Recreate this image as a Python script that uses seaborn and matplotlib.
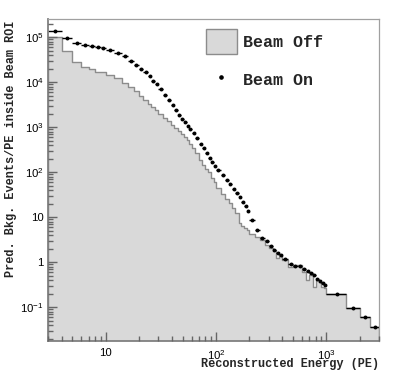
import numpy as np
import pandas as pd
import matplotlib
matplotlib.use("Agg")
import matplotlib.pyplot as plt
from matplotlib.ticker import FuncFormatter, LogLocator, NullFormatter
from matplotlib.patches import Patch
from matplotlib.lines import Line2D
import seaborn as sns

# bin edges (PE)
bin_edges = [3, 4, 5, 6, 7, 8, 9, 10,
             12, 14, 16, 18, 20, 22, 24, 26, 28, 30,
             33, 36, 39, 42, 45, 48, 51, 54, 57, 60,
             65, 70, 75, 80, 85, 90, 95, 100,
             110, 120, 130, 140, 150, 160, 170, 180, 190, 200,
             225, 250, 275, 300, 325, 350, 375, 400,
             450, 500, 550, 600, 650, 700, 750, 800, 850, 900, 950, 1000,
             1500, 2000, 2500, 3000]

beam_off = [1.03e5, 5.04e4, 2.87e4, 2.22e4, 1.95e4, 1.72e4, 1.65e4,
            1.42e4, 1.26e4, 9.64e3, 7.74e3, 6.25e3, 5.06e3, 4.08e3, 3.33e3, 2.83e3, 2.42e3,
            2.0e3, 1.61e3, 1.36e3, 1.15e3, 979, 832, 710, 608, 522, 425,
            344, 262, 188, 147, 120, 99, 74.7, 59.3,
            43.7, 33, 25.5, 20.3, 15.8, 12.5, 7.28, 6.41, 5.64, 5.09,
            4.26, 3.65, 3.05, 2.42, 2.05, 1.87, 1.23, 1.39,
            1.11, 0.798, 0.871, 0.871, 0.618, 0.404, 0.522, 0.287, 0.404, 0.365, 0.287, 0.269,
            0.2, 0.095, 0.06, 0.037]

beam_on = [1.38e5, 9.65e4, 7.36e4, 6.67e4, 6.25e4, 6.0e4, 5.64e4,
           5.22e4, 4.48e4, 3.74e4, 2.97e4, 2.46e4, 2.0e4, 1.65e4, 1.35e4, 1.08e4, 8.93e3,
           6.92e3, 5.27e3, 4.08e3, 3.13e3, 2.42e3, 1.92e3, 1.55e3, 1.28e3, 1.07e3, 894,
           740, 564, 425, 338, 262, 208, 165, 135,
           112, 85.7, 65.8, 55.5, 43.2, 35.0, 27.7, 22.1, 17.8, 13.9,
           8.5, 5.14, 3.47, 2.9, 2.27, 1.87, 1.63, 1.42,
           1.2, 0.916, 0.84, 0.815, 0.718, 0.631, 0.578, 0.509, 0.435, 0.388, 0.354, 0.313,
           0.195, 0.095, 0.06, 0.037]

sns.set_style("white")
plt.rcParams['font.family'] = ['Liberation Sans', 'DejaVu Sans']
plt.rcParams['mathtext.fontset'] = 'custom'
plt.rcParams['mathtext.rm'] = 'Liberation Sans'
plt.rcParams['mathtext.it'] = 'Liberation Sans:italic'
plt.rcParams['mathtext.bf'] = 'Liberation Sans:bold'

edges = np.array(bin_edges, dtype=float)
centers = 0.5 * (edges[:-1] + edges[1:])
half = 0.5 * (edges[1:] - edges[:-1])
df = pd.DataFrame({'energy': centers, 'off': beam_off, 'on': beam_on})

fig = plt.figure(figsize=(3.99, 3.79), dpi=100)
ax = fig.add_axes([0.1203, 0.1003, 0.8296, 0.8496])
ax.set_axisbelow(False)

fill_c = '#d9d9d9'
edge_c = '#8c8c8c'
sns.histplot(data=df, x='energy', weights='off', bins=bin_edges, element='step', fill=True,
             color=fill_c, alpha=1, edgecolor=edge_c, linewidth=1.0, ax=ax)

ax.errorbar(df['energy'], df['on'], xerr=half, fmt='none', ecolor='black', elinewidth=1.0)
sns.scatterplot(data=df, x='energy', y='on', color='black', s=8, linewidth=0, ax=ax, zorder=5)

ax.set_xscale('log')
ax.set_yscale('log')
ax.set_xlim(3, 3000)
ax.set_ylim(0.0178, 2.55e5)


def fmt(v, pos):
    n = int(round(np.log10(v)))
    if n == 0:
        return '1'
    if n == 1:
        return '10'
    return r'$10^{%d}$' % n


ax.xaxis.set_major_locator(LogLocator(base=10, numticks=10))
ax.yaxis.set_major_locator(LogLocator(base=10, numticks=12))
ax.xaxis.set_minor_locator(LogLocator(base=10, subs=np.arange(2, 10), numticks=20))
ax.yaxis.set_minor_locator(LogLocator(base=10, subs=np.arange(2, 10), numticks=20))
ax.xaxis.set_major_formatter(FuncFormatter(fmt))
ax.yaxis.set_major_formatter(FuncFormatter(fmt))
ax.xaxis.set_minor_formatter(NullFormatter())
ax.yaxis.set_minor_formatter(NullFormatter())

ax.tick_params(which='both', direction='in', color='#666666', bottom=True, left=True,
               top=False, right=False, labelsize=8.2, labelcolor='black')
ax.tick_params(which='major', length=6.5, width=1.0)
ax.tick_params(which='minor', length=3.3, width=1.0)
ax.tick_params(axis='x', pad=5)
ax.tick_params(axis='y', pad=3)

for s in ['left', 'bottom']:
    ax.spines[s].set_color('#808080')
    ax.spines[s].set_linewidth(1.3)
for s in ['top', 'right']:
    ax.spines[s].set_color('#a0a0a0')
    ax.spines[s].set_linewidth(0.9)

lab_font = dict(family=['Liberation Mono', 'DejaVu Sans Mono'], weight='bold', size=8.6)
ax.set_ylabel('Pred. Bkg. Events/PE inside Beam ROI', **lab_font)
ax.yaxis.set_label_coords(-0.094, 0.598)
ax.set_xlabel('Reconstructed Energy (PE)', loc='right', **lab_font)
ax.xaxis.set_label_coords(1.0, -0.052)

handles = [Patch(facecolor=fill_c, edgecolor=edge_c, linewidth=1.0),
           Line2D([], [], marker='o', color='black', linestyle='none', markersize=2.3)]
ax.legend(handles, ['Beam Off', 'Beam On'], loc='upper left',
          bbox_to_anchor=(0.476, 0.969), frameon=False, borderpad=0, borderaxespad=0,
          handlelength=1.9, handleheight=1.9, handletextpad=0.35, labelspacing=0.85,
          prop=dict(family=['Liberation Mono', 'DejaVu Sans Mono'], weight='bold', size=12))

fig.savefig('out.png', dpi=100)
